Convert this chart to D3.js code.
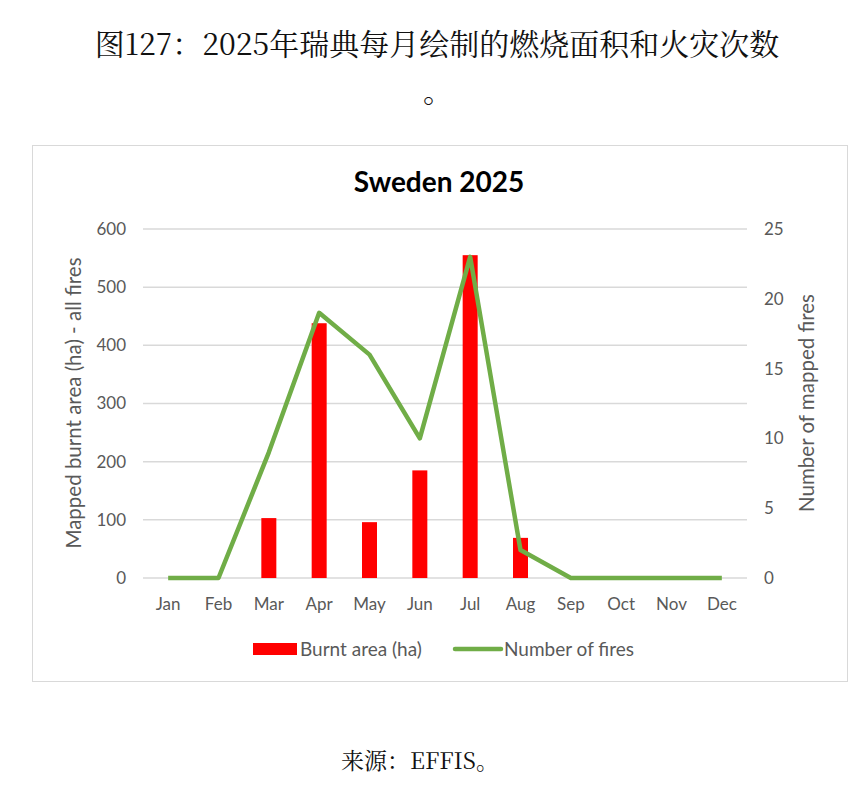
<!DOCTYPE html>
<meta charset="utf-8">
<head>
<title>Sweden 2025</title>
<script src="https://cdn.jsdelivr.net/npm/d3@7"></script>
<style>
  body { margin: 0; background: #fff; }
</style>
</head>
<body>
<div id="chart"></div>
<script>

const width = 860;
const height = 785;

// monthly values
const months = ["Jan", "Feb", "Mar", "Apr", "May", "Jun", "Jul", "Aug", "Sep", "Oct", "Nov", "Dec"];
const burntArea = [0, 0, 103, 438, 96, 185, 555, 69, 0, 0, 0, 0];
const fires = [0, 0, 9, 19, 16, 10, 23, 2, 0, 0, 0, 0];
const leftTicks = [0, 100, 200, 300, 400, 500, 600];
const rightTicks = [0, 5, 10, 15, 20, 25];

const cjk = "'Noto Serif CJK SC', 'Noto Sans CJK SC', serif";
const sans = "Lato, 'Open Sans', sans-serif";
const grey = "#595959";

const svg = d3.select("#chart")
  .append("svg")
    .attr("width", width)
    .attr("height", height)
    .attr("viewBox", [0, 0, width, height]);

// page heading
svg.append("text")
    .attr("x", 437).attr("y", 55)
    .attr("text-anchor", "middle")
    .style("font", `30px ${cjk}`)
    .attr("fill", "#111")
    .text("图127：2025年瑞典每月绘制的燃烧面积和火灾次数");
svg.append("text")
    .attr("x", 438).attr("y", 102)
    .attr("text-anchor", "middle")
    .style("font", `30px ${cjk}`)
    .attr("fill", "#111")
    .text("。");

// chart frame
svg.append("rect")
    .attr("x", 32.5).attr("y", 145.5)
    .attr("width", 815).attr("height", 536)
    .attr("fill", "#fff")
    .attr("stroke", "#d9d9d9");

svg.append("text")
    .attr("x", 439).attr("y", 192)
    .attr("text-anchor", "middle")
    .style("font", `bold 28px ${sans}`)
    .attr("fill", "#000")
    .text("Sweden 2025");

const x = d3.scaleBand()
    .domain(months)
    .range([143, 747]);

const yL = d3.scaleLinear().domain([0, 600]).range([578, 229]);
const yR = d3.scaleLinear().domain([0, 25]).range([578, 229]);

// gridlines
svg.append("g")
  .selectAll("line")
  .data(leftTicks)
  .join("line")
    .attr("x1", 143).attr("x2", 747)
    .attr("y1", d => yL(d)).attr("y2", d => yL(d))
    .attr("stroke", "#d9d9d9")
    .attr("stroke-width", 1.5);

// left axis
const axL = svg.append("g")
    .attr("transform", "translate(143,0)")
    .call(d3.axisLeft(yL).tickValues(leftTicks).tickSize(0).tickPadding(17));
axL.select(".domain").remove();
axL.selectAll("text").style("font", `17px ${sans}`).attr("fill", grey);

// right axis
const axR = svg.append("g")
    .attr("transform", "translate(747,0)")
    .call(d3.axisRight(yR).tickValues(rightTicks).tickSize(0).tickPadding(17));
axR.select(".domain").remove();
axR.selectAll("text").style("font", `17px ${sans}`).attr("fill", grey);

// month axis
const axB = svg.append("g")
    .attr("transform", "translate(0,578)")
    .call(d3.axisBottom(x).tickSize(0).tickPadding(20));
axB.select(".domain").remove();
axB.selectAll("text").style("font", `17px ${sans}`).attr("fill", grey);

// axis titles
svg.append("text")
    .attr("transform", "translate(81,403) rotate(-90)")
    .attr("text-anchor", "middle")
    .style("font", `20.5px ${sans}`)
    .attr("fill", grey)
    .text("Mapped burnt area (ha) - all fires");
svg.append("text")
    .attr("transform", "translate(814,403) rotate(-90)")
    .attr("text-anchor", "middle")
    .style("font", `20.5px ${sans}`)
    .attr("fill", grey)
    .text("Number of mapped fires");

// bars
const barW = 15;
svg.append("g")
  .selectAll("rect")
  .data(months.map((m, i) => ({ m, v: burntArea[i] })).filter(d => d.v > 0))
  .join("rect")
    .attr("x", d => x(d.m) + x.bandwidth() / 2 - barW / 2)
    .attr("y", d => yL(d.v))
    .attr("width", barW)
    .attr("height", d => yL(0) - yL(d.v))
    .attr("fill", "#ff0000");

// fires line
const line = d3.line()
    .x((d, i) => x(months[i]) + x.bandwidth() / 2)
    .y(d => yR(d));

svg.append("path")
    .datum(fires)
    .attr("d", line)
    .attr("fill", "none")
    .attr("stroke", "#70ad47")
    .attr("stroke-width", 4.5)
    .attr("stroke-linejoin", "round");

// legend
const lg = svg.append("g").style("font", `19px ${sans}`).attr("fill", grey);
lg.append("rect")
    .attr("x", 253).attr("y", 643)
    .attr("width", 44).attr("height", 12)
    .attr("fill", "#ff0000");
lg.append("text").attr("x", 300).attr("y", 656).text("Burnt area (ha)");
lg.append("line")
    .attr("x1", 455).attr("x2", 501)
    .attr("y1", 649).attr("y2", 649)
    .attr("stroke", "#70ad47")
    .attr("stroke-width", 4.5)
    .attr("stroke-linecap", "round");
lg.append("text").attr("x", 504).attr("y", 656).text("Number of fires");

// source note
svg.append("text")
    .attr("x", 420).attr("y", 769)
    .attr("text-anchor", "middle")
    .style("font", `23px ${cjk}`)
    .attr("fill", "#111")
    .text("来源：EFFIS。");

</script>
</body>
